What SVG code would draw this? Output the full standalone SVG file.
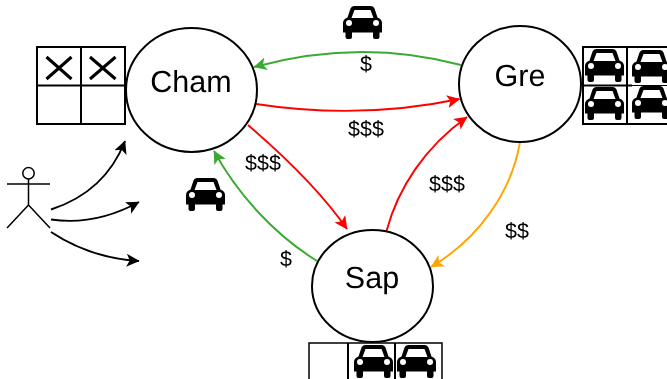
<svg xmlns="http://www.w3.org/2000/svg" width="667" height="379" viewBox="0 0 667 379">
<style>
.n{fill:#fff;stroke:#000;stroke-width:2}
.g{fill:none;stroke:#000;stroke-width:2}
.t{font-family:"Liberation Sans",Arial,sans-serif;fill:#000;text-anchor:middle;text-rendering:geometricPrecision;filter:url(#soft)}
.big{font-size:30.500px}
.m{font-size:21.500px}
.c{fill:none;stroke-width:1.900}
.k{stroke:#000}.gn{stroke:#3aaa35}.r{stroke:#f00}.o{stroke:#ffa500}
.x{fill:none;stroke:#000;stroke-width:3}
</style>
<defs>
<filter id="soft" x="-10%" y="-10%" width="120%" height="120%"><feGaussianBlur stdDeviation="0.250"/></filter>
<symbol id="car" viewBox="0 0 39 33" overflow="visible">
<path fill-rule="evenodd" d="M11 0H28Q30.500 0 31.500 2.500L34.500 11.500Q39 13 39 17V26.500H36.500V31Q36.500 33 34.500 33H32Q30 33 30 31V26.500H9V31Q9 33 7 33H4.500Q2.500 33 2.500 31V26.500H0V17Q0 13 4.500 11.500L7.500 2.500Q8.500 0 11 0ZM11.500 4L8.500 12H30.500L27.500 4Z"/>
<circle cx="6" cy="17" r="3" fill="#fff"/><circle cx="33" cy="17" r="3" fill="#fff"/>
</symbol>
<marker id="mk" markerWidth="15" markerHeight="14" refX="12.500" refY="6.500" orient="auto" markerUnits="userSpaceOnUse"><path d="M0 0L13 6.500L0 13L3.200 6.500Z" fill="#000"/></marker>
<marker id="mg" markerWidth="15" markerHeight="14" refX="12.500" refY="6.500" orient="auto" markerUnits="userSpaceOnUse"><path d="M0 0L13 6.500L0 13L3.200 6.500Z" fill="#3aaa35"/></marker>
<marker id="mr" markerWidth="15" markerHeight="14" refX="12.500" refY="6.500" orient="auto" markerUnits="userSpaceOnUse"><path d="M0 0L13 6.500L0 13L3.200 6.500Z" fill="#f00"/></marker>
<marker id="mo" markerWidth="15" markerHeight="14" refX="12.500" refY="6.500" orient="auto" markerUnits="userSpaceOnUse"><path d="M0 0L13 6.500L0 13L3.200 6.500Z" fill="#ffa500"/></marker>
</defs>
<g id="connectors">
<path class="c gn" marker-end="url(#mg)" d="M461 65Q360 38 254 67"/>
<path class="c r" marker-end="url(#mr)" d="M256 104Q360 120 459.500 99"/>
<path class="c r" marker-end="url(#mr)" d="M248 125C283 155 320 190 347 229"/>
<path class="c gn" marker-end="url(#mg)" d="M317 261C275 235 238 195 214 151"/>
<path class="c r" marker-end="url(#mr)" d="M386.500 231C398 188 425 147 467 117"/>
<path class="c o" marker-end="url(#mo)" d="M520 142C512 190 480 238 431 267"/>
<path class="c k" marker-end="url(#mk)" d="M51 209.500Q105 192 125 141"/>
<path class="c k" marker-end="url(#mk)" d="M51 219.500Q95 226 139 202"/>
<path class="c k" marker-end="url(#mk)" d="M51 232Q90 258 139 261"/>
</g>
<g id="grid-cham">
<rect class="g" x="37" y="47" width="88" height="77"/><path class="g" d="M81 47V124M37 85.500H125"/>
<path class="x" d="M46.500 57L71.500 79M71.500 57L46.500 79M90 57L115.500 79M115.500 57L90 79"/>
</g>
<g id="grid-gre">
<rect class="g" x="583" y="47" width="90" height="77"/><path class="g" d="M627 47V124M583 85.500H632"/><path stroke="#000" d="M632 85.500H673"/>
<use href="#car" x="585" y="49" width="39" height="33"/><use href="#car" x="632" y="50" width="39" height="33"/>
<use href="#car" x="585" y="87" width="39" height="33"/><use href="#car" x="632" y="86" width="39" height="33"/>
</g>
<g id="grid-sap">
<rect class="g" x="309" y="343" width="133" height="50" style="stroke-width:1.500"/><path class="g" d="M348 343V379M395 343V379"/>
<use href="#car" x="354" y="345" width="39" height="33"/><use href="#car" x="397" y="345" width="39" height="33"/>
</g>
<g id="node-cham"><ellipse class="n" cx="191.500" cy="90" rx="65.500" ry="62"/><text class="t big" x="191" y="92">Cham</text></g>
<g id="node-gre"><ellipse class="n" cx="520" cy="84" rx="61" ry="58"/><text class="t big" x="520" y="86">Gre</text></g>
<g id="node-sap"><ellipse class="n" cx="372.500" cy="286" rx="60.500" ry="56"/><text class="t big" x="372" y="288">Sap</text></g>
<g id="actor" fill="none" stroke="#000" stroke-width="1.500">
<circle cx="28.500" cy="173.300" r="5.700"/>
<path d="M28.500 179V205M7 184H50M28.500 205L7 228M28.500 205L50 228"/>
</g>
<use id="car-a" href="#car" x="343" y="6" width="39" height="33"/>
<use id="car-b" href="#car" x="186" y="178" width="39" height="33"/>
<g id="labels">
<text class="t m" x="366" y="71">$</text>
<text class="t m" x="366" y="136">$$$</text>
<text class="t m" x="263" y="169.500">$$$</text>
<text class="t m" x="447" y="191">$$$</text>
<text class="t m" x="517" y="238">$$</text>
<text class="t m" x="286" y="266">$</text>
</g>
</svg>
